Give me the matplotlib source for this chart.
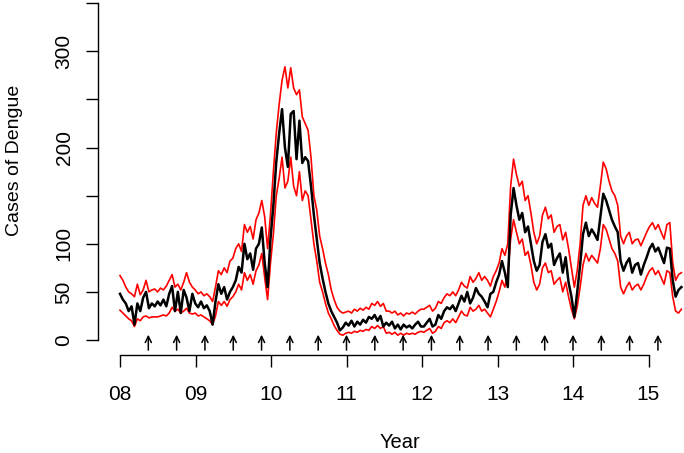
import numpy as np
import matplotlib.pyplot as plt

plt.rcParams['font.family'] = ['Liberation Sans', 'DejaVu Sans']

# fitted weekly dengue cases, read every 2 weeks starting Jan 2008
mean_cases = [
    48, 42, 38, 30, 35, 16, 38, 30, 44, 50, 33, 38, 35,
    40, 36, 42, 35, 48, 56, 30, 50, 28, 52, 44, 30, 48,
    38, 34, 40, 33, 36, 30, 16, 40, 58, 48, 55, 42, 50,
    55, 62, 76, 70, 100, 84, 90, 73, 95, 100, 117, 80, 55,
    105, 140, 185, 215, 240, 200, 180, 235, 238, 188, 228, 184, 190,
    186, 160, 130, 105, 80, 64, 50, 38, 30, 24, 18, 10, 13,
    18, 15, 20, 14, 19, 16, 21, 18, 24, 22, 26, 20, 25, 14,
    18, 15, 19, 12, 16, 11, 16, 13, 15, 12, 16, 19, 14,
    14, 18, 22, 14, 16, 26, 22, 30, 34, 32, 36, 30, 38,
    46, 40, 50, 38, 44, 54, 48, 45, 40, 34, 48, 50, 60,
    68, 82, 70, 55, 130, 158, 140, 125, 132, 112, 118, 100, 82, 72,
    78, 102, 110, 96, 100, 78, 85, 90, 70, 86, 60, 45, 24, 50,
    78, 110, 122, 108, 115, 110, 104, 128, 152, 145, 135, 125, 118, 112,
    82, 72, 80, 85, 70, 78, 80, 68, 78, 86, 95, 100, 92, 96,
    88, 80, 96, 95, 62, 45, 52, 55,
]
upper_cases = [
    67, 62, 55, 50, 48, 45, 58, 47, 52, 62, 50, 52, 53,
    50, 54, 52, 56, 62, 68, 55, 58, 52, 60, 70, 60, 55,
    52, 48, 50, 46, 48, 45, 40, 55, 72, 68, 75, 70, 82,
    85, 95, 100, 92, 120, 112, 118, 105, 125, 132, 145, 128, 95,
    130, 175, 215, 245, 270, 284, 262, 283, 262, 255, 260, 232, 225,
    218, 190, 150, 135, 108, 95, 80, 68, 52, 42, 34, 30, 28,
    29, 30, 28, 32, 30, 33, 31, 34, 32, 38, 36, 40, 35, 38,
    30, 30, 28, 30, 26, 28, 25, 28, 27, 29, 27, 30, 32,
    32, 34, 36, 30, 33, 40, 38, 44, 48, 46, 50, 46, 52,
    60, 56, 54, 66, 60, 64, 70, 62, 66, 62, 56, 66, 72,
    80, 95, 88, 100, 160, 188, 172, 160, 165, 145, 150, 132, 112, 100,
    108, 130, 138, 126, 130, 112, 118, 120, 104, 112, 95, 75, 55, 72,
    100, 140, 150, 140, 148, 142, 138, 160, 185, 178, 165, 155, 150, 140,
    108, 100, 108, 112, 100, 104, 105, 98, 105, 112, 118, 122, 115, 120,
    112, 105, 120, 122, 80, 62, 68, 70,
]
lower_cases = [
    31, 28, 25, 22, 20, 14, 22, 20, 24, 25, 23, 24, 24,
    24, 25, 26, 25, 28, 34, 30, 32, 28, 30, 33, 28, 27,
    28, 25, 26, 24, 22, 20, 16, 25, 40, 36, 40, 35, 42,
    45, 50, 58, 52, 70, 62, 68, 58, 72, 78, 90, 65, 42,
    80, 110, 150, 168, 190, 158, 165, 190, 160, 150, 175, 145, 155,
    150, 125, 100, 82, 60, 50, 38, 28, 22, 15, 10, 6, 5,
    7, 8, 7, 9, 8, 10, 9, 11, 10, 14, 12, 15, 12, 14,
    7, 8, 6, 8, 5, 7, 5, 7, 6, 7, 6, 8, 9,
    8, 10, 12, 7, 9, 14, 12, 18, 20, 18, 22, 18, 24,
    30, 26, 25, 34, 30, 32, 36, 30, 32, 28, 24, 32, 40,
    50, 62, 55, 70, 105, 125, 112, 100, 105, 88, 92, 78, 60, 52,
    58, 75, 80, 70, 72, 58, 62, 65, 50, 60, 45, 32, 22, 35,
    55, 78, 90, 82, 88, 84, 80, 95, 120, 115, 105, 95, 90, 82,
    55, 48, 55, 60, 52, 56, 58, 52, 58, 66, 72, 75, 68, 72,
    65, 58, 72, 70, 45, 30, 28, 32,
]
# arrow marks along the time axis (year, two-digit)
arrow_years = [8.375, 8.75, 9.125, 9.5, 9.875, 10.25, 10.625, 11.0, 11.375,
               11.75, 12.125, 12.5, 12.875, 13.25, 13.625, 14.0, 14.375,
               14.75, 15.125]
year_ticks = [8, 9, 10, 11, 12, 13, 14, 15]
year_labels = ['08', '09', '10', '11', '12', '13', '14', '15']
case_ticks = [0, 50, 100, 150, 200, 250, 300, 350]
case_labels = ['0', '50', '100', '', '200', '', '300', '']

weeks = np.arange(len(mean_cases)) * 2
x = 8 + weeks / 52.18

fig = plt.figure(figsize=(6.84, 4.53), dpi=100)
ax = fig.add_axes([98 / 684, 1 - 355 / 453, 1 - 98 / 684, 355 / 453])

ax.plot(x, upper_cases, color='#ff0000', lw=1.2)
ax.plot(x, lower_cases, color='#ff0000', lw=1.2)
ax.plot(x, mean_cases, color='black', lw=1.8)

for xa in arrow_years:
    ax.annotate('', xy=(xa, 5.5), xytext=(xa, -10.5),
                arrowprops=dict(arrowstyle='->', color='black', lw=1.1,
                                shrinkA=0, shrinkB=0, mutation_scale=11))

ax.set_xlim(8 - 22 / 75.5, 8 + 564 / 75.5)
ax.set_ylim(-15.6, 340 / 0.962)

for s in ['top', 'right']:
    ax.spines[s].set_visible(False)
ax.spines['left'].set_bounds(0, 350)
ax.spines['bottom'].set_bounds(8, 15)
ax.spines['left'].set_linewidth(1.0)
ax.spines['bottom'].set_linewidth(1.0)

ax.set_xticks(year_ticks)
ax.set_xticklabels(year_labels)
ax.set_yticks(case_ticks)
ax.set_yticklabels(case_labels)
ax.tick_params(direction='out', length=8.6, width=1.0, labelsize=15)
ax.tick_params(axis='x', pad=13)
ax.tick_params(axis='y', pad=9)
plt.setp(ax.get_yticklabels(), rotation=90, va='center')

fig.text(400 / 684, 1 - 442 / 453, 'Year', ha='center', va='center', fontsize=14.5)
fig.text(15 / 684, 1 - 160 / 453, 'Cases of Dengue', ha='center', va='center',
         rotation=90, fontsize=14)

fig.savefig('out.png', dpi=100)
